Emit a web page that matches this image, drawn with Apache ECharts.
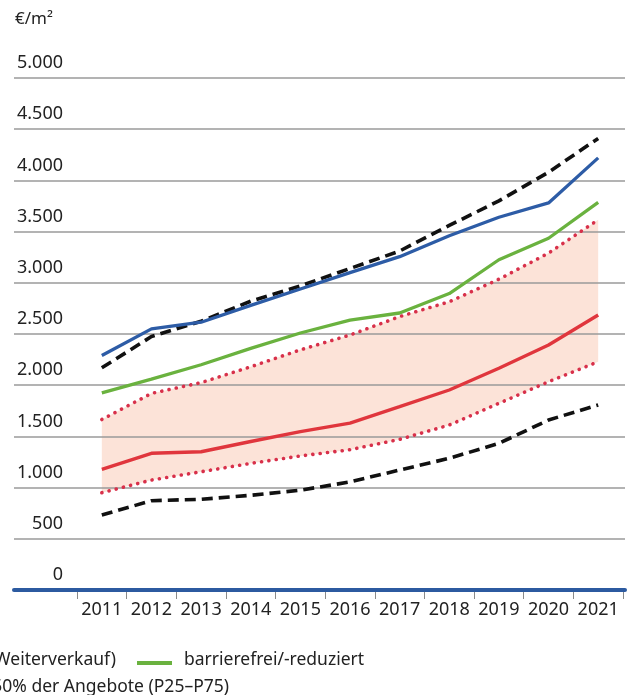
<!DOCTYPE html>
<html>
<head>
<meta charset="utf-8">
<script src="https://cdn.jsdelivr.net/npm/echarts@6/dist/echarts.min.js"></script>
<style>
html,body{margin:0;padding:0;background:#fff;}
#chart{width:630px;height:695px;}
</style>
</head>
<body>
<div id="chart"></div>
<script>
const years = ['2011','2012','2013','2014','2015','2016','2017','2018','2019','2020','2021'];
const yTicks = [0, 500, 1000, 1500, 2000, 2500, 3000, 3500, 4000, 4500, 5000];
// Bestand (Weiterverkauf), Median
const bestandMedian = [2290, 2550, 2615, 2780, 2940, 3100, 3255, 3460, 3640, 3780, 4220];
// obere gestrichelte Linie
const bestandOben = [2170, 2475, 2625, 2820, 2970, 3140, 3310, 3560, 3800, 4080, 4410];
// barrierefrei/-reduziert
const barrierefrei = [1925, 2060, 2200, 2360, 2510, 2635, 2705, 2895, 3225, 3435, 3785];
// P75
const p75 = [1665, 1920, 2025, 2180, 2345, 2490, 2670, 2815, 3035, 3290, 3615];
// Median (rot)
const medianRot = [1178, 1335, 1350, 1450, 1546, 1630, 1790, 1953, 2165, 2393, 2686];
// P25
const p25 = [950, 1074, 1155, 1237, 1309, 1370, 1471, 1611, 1823, 2034, 2230];
// untere gestrichelte Linie
const bestandUnten = [732, 872, 886, 925, 975, 1055, 1172, 1286, 1432, 1660, 1807];

const FONT = 'Noto Sans';
const bandDiff = p75.map((v, i) => v - p25[i]);

const chart = echarts.init(document.getElementById('chart'), null, {renderer: 'canvas'});
const dashed = {color: '#111', width: 3.6, type: [11, 6]};
const dotted = {color: '#d8304a', width: 3.6, type: [0.1, 7.3], cap: 'round'};

chart.setOption({
  animation: false,
  backgroundColor: '#fff',
  grid: [
    {left: 77, right: 7, top: 78, bottom: 105},
    {left: 14, right: 5, top: 78, bottom: 105}
  ],
  xAxis: [
    {
      type: 'category', gridIndex: 0, data: years, boundaryGap: true,
      axisLine: {show: false},
      axisTick: {show: true, alignWithLabel: false, length: 9, lineStyle: {color: '#8a8a8a', width: 1}},
      axisLabel: {color: '#222', fontFamily: FONT, fontSize: 18, margin: 11, interval: 0},
      splitLine: {show: false}, z: 5
    },
    {
      type: 'value', gridIndex: 1, min: 0, max: 1, show: true,
      axisLine: {show: true, onZero: false, lineStyle: {color: '#2c5aa0', width: 4}},
      axisTick: {show: false}, axisLabel: {show: false}, splitLine: {show: false}, z: 6
    }
  ],
  yAxis: [
    {
      type: 'value', gridIndex: 0, min: yTicks[0], max: yTicks[yTicks.length - 1], interval: 500,
      show: false, splitLine: {show: false}
    },
    {
      type: 'value', gridIndex: 1, min: yTicks[0], max: yTicks[yTicks.length - 1], interval: 500,
      axisLine: {show: false}, axisTick: {show: false}, z: 2,
      axisLabel: {
        inside: true, margin: 49, align: 'right', verticalAlign: 'bottom',
        lineHeight: 18, padding: [0, 0, 6, 0],
        color: '#222', fontFamily: FONT, fontSize: 18,
        formatter: v => v.toLocaleString('de-DE')
      },
      splitLine: {show: true, lineStyle: {color: '#9a9a9a', width: 1.5}}
    }
  ],
  series: [
    {name: 'P25 Basis', type: 'line', xAxisIndex: 0, yAxisIndex: 0, stack: 'band', data: p25,
     symbol: 'none', lineStyle: {opacity: 0}, silent: true, z: 1},
    {name: 'mittlere 50% der Angebote (P25–P75)', type: 'line', xAxisIndex: 0, yAxisIndex: 0, stack: 'band', data: bandDiff,
     symbol: 'none', lineStyle: {opacity: 0}, areaStyle: {color: '#fce3d8', opacity: 1}, silent: true, z: 1},
    {name: 'P25', type: 'line', data: p25, symbol: 'none', lineStyle: dotted, z: 3},
    {name: 'P75', type: 'line', data: p75, symbol: 'none', lineStyle: dotted, z: 3},
    {name: 'Median', type: 'line', data: medianRot, symbol: 'none', lineStyle: {color: '#e0363d', width: 3.4}, z: 4},
    {name: 'unten', type: 'line', data: bestandUnten, symbol: 'none', lineStyle: dashed, z: 4},
    {name: 'oben', type: 'line', data: bestandOben, symbol: 'none', lineStyle: dashed, z: 4},
    {name: 'barrierefrei/-reduziert', type: 'line', data: barrierefrei, symbol: 'none', lineStyle: {color: '#6ab23f', width: 3.3}, z: 5},
    {name: 'Bestand (Weiterverkauf)', type: 'line', data: bestandMedian, symbol: 'none', lineStyle: {color: '#2d5ca6', width: 3.3}, z: 6}
  ],
  graphic: [
    {type: 'text', left: 15, top: 11, style: {text: '€/m²', fill: '#222', font: '17px "Noto Sans"'}},
    {type: 'text', x: 116, y: 660, style: {text: 'Bestand (Weiterverkauf)', fill: '#222', font: '17.5px "Noto Sans"', align: 'right', verticalAlign: 'middle'}},
    {type: 'line', shape: {x1: 137, y1: 663, x2: 172, y2: 663}, style: {stroke: '#6ab23f', lineWidth: 4}},
    {type: 'text', x: 184, y: 660, style: {text: 'barrierefrei/-reduziert', fill: '#222', font: '17.5px "Noto Sans"', verticalAlign: 'middle'}},
    {type: 'text', x: 229, y: 687, style: {text: 'mittlere 50% der Angebote (P25–P75)', fill: '#222', font: '17.5px "Noto Sans"', align: 'right', verticalAlign: 'middle'}}
  ]
});
</script>
</body>
</html>
